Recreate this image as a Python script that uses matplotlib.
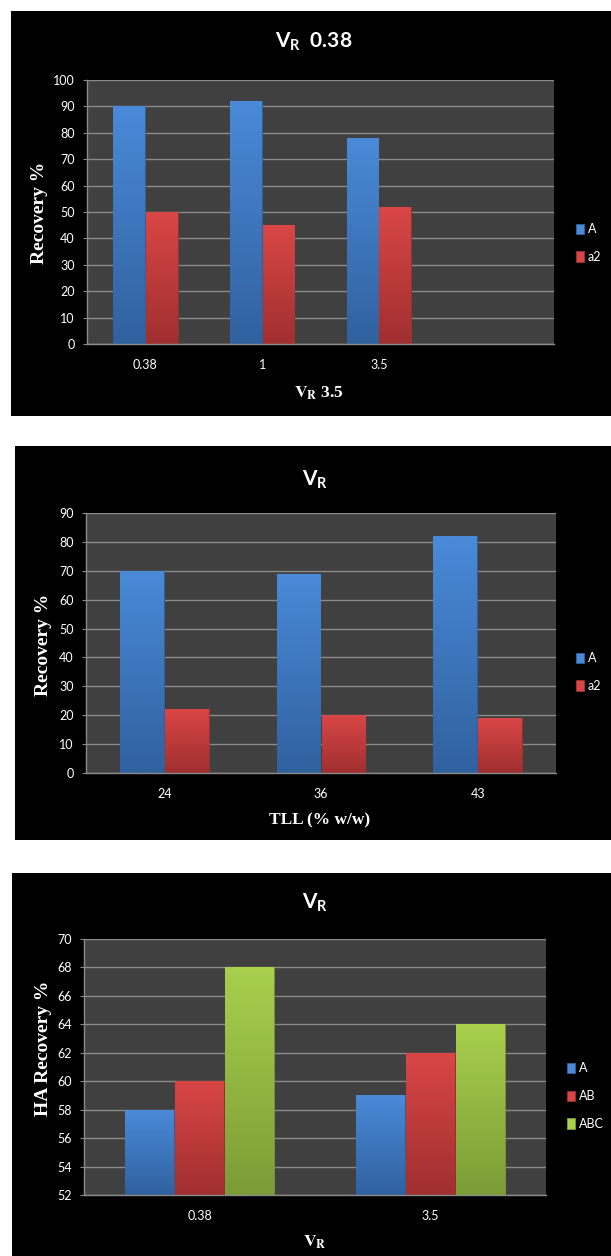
import numpy as np
import matplotlib.pyplot as plt
from matplotlib.patches import Rectangle
from matplotlib.colors import LinearSegmentedColormap

plt.rcParams['font.family'] = ['Lato', 'DejaVu Sans']
plt.rcParams['mathtext.fontset'] = 'custom'
plt.rcParams['mathtext.rm'] = 'Lato:bold'
plt.rcParams['mathtext.it'] = 'Lato:bold'
plt.rcParams['mathtext.bf'] = 'Lato:bold'

# data
p1_categories = ['0.38', '1', '3.5']
p1_A = [90, 92, 78]
p1_a2 = [50, 45, 52]

p2_categories = ['24', '36', '43']
p2_A = [70, 69, 82]
p2_a2 = [22, 20, 19]

p3_categories = ['0.38', '3.5']
p3_A = [58, 59]
p3_AB = [60, 62]
p3_ABC = [68, 64]

W, H = 611, 1256
fig = plt.figure(figsize=(W / 100, H / 100), dpi=100)
fig.patch.set_facecolor('white')

# (light, dark) shades for each series
BLUE = ('#4a8ad8', '#30619f')
RED = ('#d94646', '#a02f2f')
GREEN = ('#a9cf4d', '#7b9c36')


def rect(x0, y0, x1, y1):
    return [x0 / W, 1 - y1 / H, (x1 - x0) / W, (y1 - y0) / H]


def fpos(x, y):
    return x / W, 1 - y / H


def black_panel(x0, y0, x1, y1):
    fig.add_artist(Rectangle((x0 / W, 1 - y1 / H), (x1 - x0) / W, (y1 - y0) / H,
                             transform=fig.transFigure, facecolor='black',
                             edgecolor='none', zorder=-5))


def shade(ax, bars, light, dark):
    cmap = LinearSegmentedColormap.from_list('g', [dark, light])
    ylo = ax.get_ylim()[0]
    grad = np.linspace(0, 1, 200).reshape(-1, 1)
    for r in bars:
        x0 = r.get_x()
        x1 = x0 + r.get_width()
        top = r.get_y() + r.get_height()
        bot = max(r.get_y(), ylo)
        im = ax.imshow(grad, extent=[x0, x1, bot, top], origin='lower',
                       aspect='auto', cmap=cmap, zorder=2.5)
        im.set_clip_path(r)


def panel(box, cats, series, colors, names, width, ylim, yticks, xlim,
          title_xy, title, ylabel_xy, ylabel, xlabel_xy, xlabel, leg_xy):
    ax = fig.add_axes(rect(*box))
    ax.set_facecolor('#404040')
    ax.set_xlim(*xlim)
    ax.set_ylim(*ylim)
    ax.set_yticks(yticks)
    ax.yaxis.grid(True, color='#8a8a8a', linewidth=1.0)
    ax.set_axisbelow(True)
    for s in ['top', 'right']:
        ax.spines[s].set_visible(False)
    for s in ['left', 'bottom']:
        ax.spines[s].set_color('#8a8a8a')
        ax.spines[s].set_linewidth(1.0)
    ax.tick_params(axis='y', colors='#8a8a8a', labelcolor='white',
                   labelsize=9, length=3, pad=6)
    ax.tick_params(axis='x', length=0, labelcolor='white', labelsize=9, pad=11)
    x = np.arange(len(cats))
    ax.set_xticks(x)
    ax.set_xticklabels(cats)
    n = len(series)
    handles = []
    for i, (vals, col) in enumerate(zip(series, colors)):
        off = (i - (n - 1) / 2) * width
        bars = ax.bar(x + off, vals, width * 0.97, color=col[1],
                      edgecolor=col[1], linewidth=0.6, zorder=2)
        shade(ax, bars, col[0], col[1])
        handles.append(Rectangle((0, 0), 1, 1, facecolor=col[0],
                                 edgecolor=col[1], linewidth=0.6))
    ax.set_xlim(*xlim)
    ax.set_ylim(*ylim)

    fig.text(*fpos(*title_xy), title, ha='center', va='center', color='white',
             fontsize=15, fontweight='bold', math_fontfamily='custom')
    fig.text(*fpos(*ylabel_xy), ylabel, ha='center', va='center', color='white',
             rotation=90, fontsize=14, fontweight='bold',
             family='Liberation Serif')
    fig.text(*fpos(*xlabel_xy), xlabel, ha='center', va='center', color='white',
             fontsize=12.5, fontweight='bold', family='Liberation Serif',
             math_fontfamily='stix')
    fig.legend(handles, names, loc='center left', bbox_to_anchor=fpos(*leg_xy),
               frameon=False, fontsize=9, labelcolor='white',
               handlelength=0.65, handleheight=0.9, handletextpad=0.3,
               labelspacing=1.25, borderpad=0, borderaxespad=0)
    return ax


# panel 1
black_panel(11, 11, 611, 416)
panel((87, 80, 554, 344), p1_categories, [p1_A, p1_a2], [BLUE, RED],
      ['A', 'a2'], 0.28, (0, 100), np.arange(0, 101, 10), (-0.5, 3.5),
      (314, 42), r'$\mathrm{V}_\mathrm{R}$  0.38',
      (39, 213), 'Recovery %',
      (319, 393), r'$\mathbf{V}_\mathbf{R}$ 3.5', (576, 243))

# panel 2
black_panel(15, 446, 611, 840)
panel((86, 513, 556, 773), p2_categories, [p2_A, p2_a2], [BLUE, RED],
      ['A', 'a2'], 0.288, (0, 90), np.arange(0, 91, 10), (-0.5, 2.5),
      (315, 480), r'$\mathrm{V}_\mathrm{R}$',
      (43, 645), 'Recovery %',
      (320, 820), 'TLL (% w/w)', (576, 672))

# panel 3
black_panel(12, 873, 611, 1256)
panel((84, 939, 546, 1195), p3_categories, [p3_A, p3_AB, p3_ABC],
      [BLUE, RED, GREEN], ['A', 'AB', 'ABC'], 0.218, (52, 70),
      np.arange(52, 71, 2), (-0.5, 1.5),
      (315, 903), r'$\mathrm{V}_\mathrm{R}$',
      (43, 1048), 'HA Recovery %',
      (315, 1242), r'$\mathbf{V}_\mathbf{R}$', (567, 1096))

fig.savefig('out.png', dpi=100, facecolor='white')
